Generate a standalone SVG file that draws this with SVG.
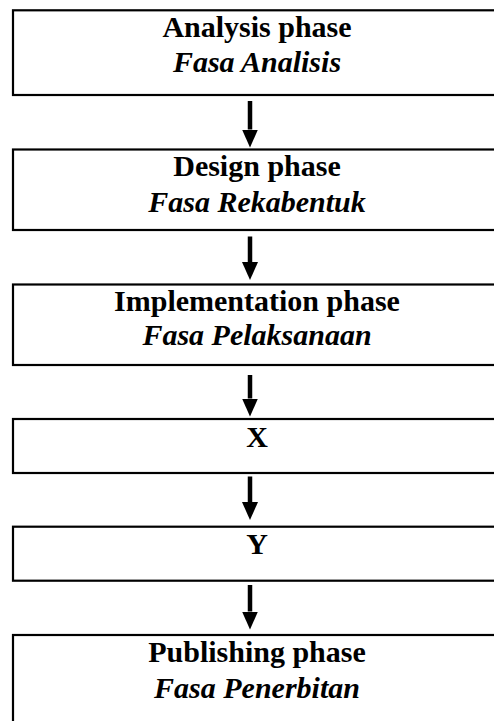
<svg xmlns="http://www.w3.org/2000/svg" width="494" height="721" viewBox="0 0 494 721">
<style>
.box{fill:#fff;stroke:#000;stroke-width:2.2}
.t{font-family:"Liberation Serif","Times New Roman",serif;font-size:30px;font-weight:bold;text-anchor:middle;fill:#000}
.i{font-style:italic}
.c{stroke:#000;stroke-width:4.5;fill:none}
</style>
<defs>
<marker id="ah" viewBox="0 0 18 16" refX="0" refY="8" markerWidth="18" markerHeight="16" markerUnits="userSpaceOnUse" orient="auto">
<path d="M0,0 L18,8 L0,16 Z" fill="#000"/>
</marker>
</defs>
<rect width="494" height="721" fill="#fff"/>
<g id="analysis">
<rect class="box" x="13" y="10.3" width="495" height="84.7"/>
<text class="t" x="257" y="37">Analysis phase</text>
<text class="t i" x="257" y="72">Fasa Analisis</text>
</g>
<g id="design">
<rect class="box" x="13" y="149.5" width="495" height="80.5"/>
<text class="t" x="257" y="176.3">Design phase</text>
<text class="t i" x="257" y="211.8">Fasa Rekabentuk</text>
</g>
<g id="implementation">
<rect class="box" x="13" y="284.5" width="495" height="80.5"/>
<text class="t" x="257" y="311.3">Implementation phase</text>
<text class="t i" x="257" y="345.3">Fasa Pelaksanaan</text>
</g>
<g id="x">
<rect class="box" x="13" y="419" width="495" height="54"/>
<text class="t" x="257" y="446.8">X</text>
</g>
<g id="y">
<rect class="box" x="13" y="526.7" width="495" height="54"/>
<text class="t" x="257" y="554.3">Y</text>
</g>
<g id="publishing">
<rect class="box" x="13" y="635" width="495" height="100"/>
<text class="t" x="257" y="662.3">Publishing phase</text>
<text class="t i" x="257" y="697.8">Fasa Penerbitan</text>
</g>
<g id="connectors">
<line class="c" x1="250" y1="101" x2="250" y2="129.5" marker-end="url(#ah)"/>
<line class="c" x1="250" y1="236.5" x2="250" y2="262" marker-end="url(#ah)"/>
<line class="c" x1="250" y1="375" x2="250" y2="398.5" marker-end="url(#ah)"/>
<line class="c" x1="250" y1="476.5" x2="250" y2="502" marker-end="url(#ah)"/>
<line class="c" x1="250" y1="585" x2="250" y2="611.5" marker-end="url(#ah)"/>
</g>
</svg>
